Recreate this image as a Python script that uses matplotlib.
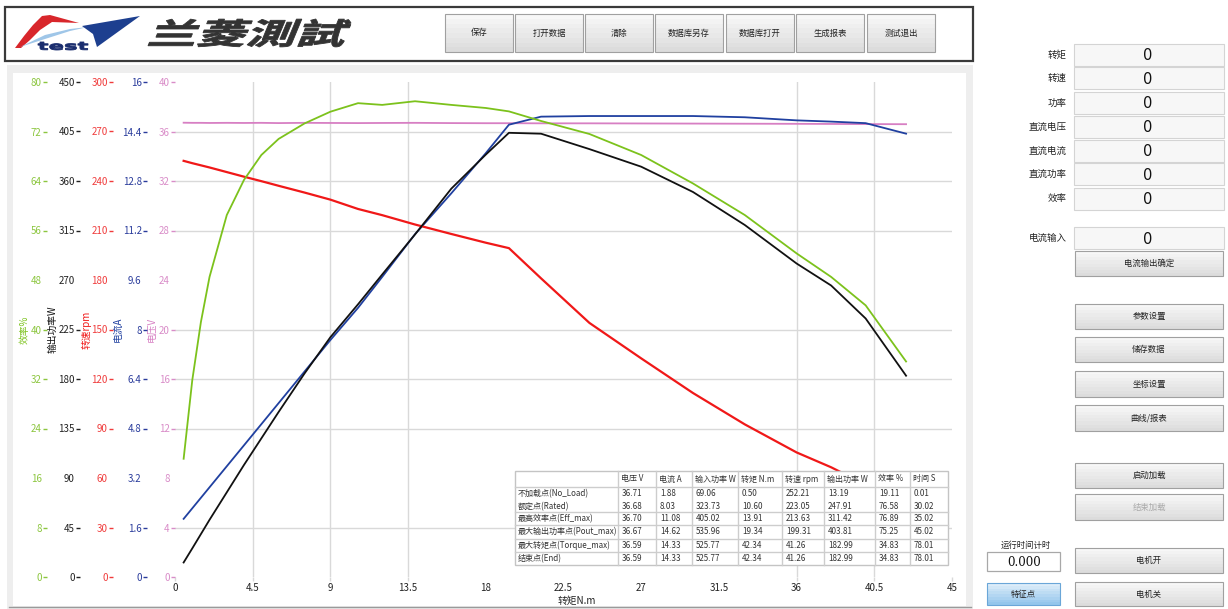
import numpy as np
import matplotlib
matplotlib.use('Agg')
import matplotlib.pyplot as plt
from matplotlib.patches import Rectangle, Polygon, PathPatch
from matplotlib.textpath import TextPath
from matplotlib.font_manager import FontProperties
from matplotlib.transforms import Affine2D
from matplotlib.colors import to_rgb

plt.rcParams['font.family'] = ['Noto Sans CJK SC', 'DejaVu Sans']

# ---- curve data (torque N.m on x) ----
torque = [0.5, 1, 1.5, 2, 3, 4, 5, 6, 7.5, 9, 10.6, 12, 13.9, 16, 18, 19.34,
          21.2, 24, 27, 30, 33, 36, 38, 40, 42.34]
efficiency = [19.11, 31.8, 41.2, 48.5, 58.5, 64.2, 68.2, 70.8, 73.3, 75.2, 76.58, 76.3,
              76.89, 76.3, 75.8, 75.25, 73.7, 71.6, 68.2, 63.6, 58.5, 52.3, 48.5, 43.9, 34.83]
output_power = [13.19, 26, 39, 52, 77, 102, 126, 150, 185, 218, 247.91, 275, 311.42,
                353, 384, 403.81, 403, 389, 373, 350, 320, 285, 265, 235, 182.99]
speed = [252.21, 250.8, 249.5, 248.2, 245.4, 242.6, 239.9, 237.1, 233.0, 228.7, 223.05,
         219.3, 213.63, 207.9, 202.6, 199.31, 181, 154, 132.5, 111.5, 92.5, 75.5, 66.5,
         56, 41.26]
current = [1.88, 2.22, 2.56, 2.9, 3.58, 4.26, 4.94, 5.62, 6.64, 7.66, 8.7, 9.7, 11.08,
           12.4, 13.7, 14.62, 14.88, 14.9, 14.9, 14.9, 14.86, 14.76, 14.72, 14.67, 14.33]
voltage = [36.71, 36.70, 36.70, 36.69, 36.70, 36.69, 36.70, 36.68, 36.70, 36.69, 36.68,
           36.69, 36.70, 36.68, 36.67, 36.67, 36.66, 36.66, 36.65, 36.64, 36.63, 36.62,
           36.61, 36.60, 36.59]

x_ticks = [0, 4.5, 9, 13.5, 18, 22.5, 27, 31.5, 36, 40.5, 45]
eff_ticks = [0, 8, 16, 24, 32, 40, 48, 56, 64, 72, 80]
pow_ticks = [0, 45, 90, 135, 180, 225, 270, 315, 360, 405, 450]
spd_ticks = [0, 30, 60, 90, 120, 150, 180, 210, 240, 270, 300]
cur_ticks = [0, 1.6, 3.2, 4.8, 6.4, 8, 9.6, 11.2, 12.8, 14.4, 16]
vol_ticks = [0, 4, 8, 12, 16, 20, 24, 28, 32, 36, 40]

# ---- table data ----
table_header = ['电压 V', '电流 A', '输入功率 W', '转矩 N.m', '转速 rpm', '输出功率 W', '效率 %', '时间 S']
table_names = ['不加载点(No_Load)', '额定点(Rated)', '最高效率点(Eff_max)',
               '最大输出功率点(Pout_max)', '最大转矩点(Torque_max)', '结束点(End)']
table_values = [
    ['36.71', '1.88', '69.06', '0.50', '252.21', '13.19', '19.11', '0.01'],
    ['36.68', '8.03', '323.73', '10.60', '223.05', '247.91', '76.58', '30.02'],
    ['36.70', '11.08', '405.02', '13.91', '213.63', '311.42', '76.89', '35.02'],
    ['36.67', '14.62', '535.96', '19.34', '199.31', '403.81', '75.25', '45.02'],
    ['36.59', '14.33', '525.77', '42.34', '41.26', '182.99', '34.83', '78.01'],
    ['36.59', '14.33', '525.77', '42.34', '41.26', '182.99', '34.83', '78.01'],
]

top_buttons = ['保存', '打开数据', '清除', '数据库另存', '数据库打开', '生成报表', '测试退出']
meter_labels = ['转矩', '转速', '功率', '直流电压', '直流电流', '直流功率', '效率']
side_buttons = ['电流输出确定', '参数设置', '储存数据', '坐标设置', '曲线/报表',
                '启动加载', '结束加载', '电机开', '电机关']

W, H = 1228, 609
fig = plt.figure(figsize=(W / 100, H / 100), dpi=100)

# background layer in pixel coordinates
bg = fig.add_axes([0, 0, 1, 1], zorder=0)
bg.set_xlim(0, W)
bg.set_ylim(H, 0)
bg.axis('off')


def fit_text(ax, s, box, color, weight='bold', skew=0, family='Noto Sans CJK SC'):
    tp = TextPath((0, 0), s, size=20, prop=FontProperties(family=family, weight=weight))
    tp = Affine2D().skew_deg(skew, 0).transform_path(tp)
    e = tp.get_extents()
    x0, y0, x1, y1 = box
    tr = Affine2D().translate(-e.x0, -e.y0).scale((x1 - x0) / e.width, -(y1 - y0) / e.height).translate(x0, y1)
    ax.add_patch(PathPatch(tr.transform_path(tp), fc=color, ec=color, lw=0.6))


def button(ax, x0, y0, x1, y1, label, fs=6, color='#222222', blue=False):
    top, bot, edge = ('#dcecf9', '#94c6ec', '#6aa6d8') if blue else ('#f7f7f7', '#dcdcdc', '#a0a0a0')
    c0, c1 = np.array(to_rgb(top)), np.array(to_rgb(bot))
    n = 8
    h = (y1 - y0) / n
    for k in range(n):
        f = k / (n - 1)
        ax.add_patch(Rectangle((x0, y0 + k * h), x1 - x0, h + 0.3, fc=c0 * (1 - f) + c1 * f, ec='none'))
    ax.add_patch(Rectangle((x0, y0), x1 - x0, y1 - y0, fc='none', ec=edge, lw=0.8))
    ax.text((x0 + x1) / 2, (y0 + y1) / 2, label, fontsize=fs, color=color, ha='center', va='center')


# header
bg.add_patch(Rectangle((5, 7), 968, 54, fc='white', ec='#3a3a3a', lw=1.6))
bg.add_patch(Polygon([(15, 48), (24, 36), (33, 25), (42, 16), (50, 15), (79, 23),
                      (52, 22), (40, 30), (30, 40), (21, 48)], fc='#d8262b', ec='none'))
bg.add_patch(Polygon([(20, 47), (45, 35), (70, 29), (88, 27), (70, 31), (45, 39)],
                     fc='#9fc6e8', ec='none'))
bg.add_patch(Polygon([(82, 26), (140, 16), (97, 47), (93, 34)], fc='#1d3f8f', ec='none'))
fit_text(bg, 'test', (38, 42, 88, 50), '#1a2d6e', family='DejaVu Sans')
fit_text(bg, '兰菱測試', (148, 19, 351, 47), '#333333', weight='heavy', skew=14)
btn_x = [445, 515, 585, 655, 726, 796, 867]
for bx, lab in zip(btn_x, top_buttons):
    button(bg, bx, 14, bx + 68, 52, lab)

# chart panel
bg.add_patch(Rectangle((7, 65), 966, 544, fc='#eeeeee', ec='none'))
bg.add_patch(Rectangle((13, 73), 953, 533, fc='white', ec='none'))
bg.plot([9, 971], [607, 607], color='#9a9a9a', lw=1)

# right panel meters
meter_y = [55, 78, 103, 127, 151, 174, 199]
for lab, yc in zip(meter_labels + ['电流输入'], meter_y + [238]):
    bg.add_patch(Rectangle((1074, yc - 11), 150, 22, fc='#f7f7f7', ec='#d4d4d4', lw=0.8))
    bg.text(1067, yc, lab, fontsize=6.8, ha='right', va='center', color='#222222')
    bg.text(1148, yc + 1, '0', fontsize=10.5, ha='center', va='center', color='#111111',
            family='DejaVu Sans')
side_y = [(251, 276), (304, 329), (337, 362), (371, 397), (405, 431),
          (463, 488), (494, 520), (548, 573), (582, 606)]
for lab, (y0, y1) in zip(side_buttons, side_y):
    button(bg, 1075, y0, 1223, y1, lab, color='#aaaaaa' if lab == '结束加载' else '#222222')
bg.text(1026, 545, '运行时间计时', fontsize=6, ha='center', va='center', color='#222222')
bg.add_patch(Rectangle((987, 552), 73, 19, fc='white', ec='#a8a8a8', lw=0.9))
bg.text(1024, 562, '0.000', fontsize=8.5, ha='center', va='center', color='#111111',
        family='DejaVu Serif')
button(bg, 987, 583, 1060, 605, '特征点', blue=True)

# ---- chart axes ----
L, R, B, T = 175, 952, 577, 82
pos = [L / W, 1 - B / H, (R - L) / W, (B - T) / H]

ax_v = fig.add_axes(pos, zorder=2)
ax_i = fig.add_axes(pos, sharex=ax_v, zorder=3)
ax_n = fig.add_axes(pos, sharex=ax_v, zorder=4)
ax_p = fig.add_axes(pos, sharex=ax_v, zorder=5)
ax_e = fig.add_axes(pos, sharex=ax_v, zorder=6)

grid_c = '#d9d9d9'
for v in [4, 12, 16, 20, 28, 32, 36]:
    ax_v.axhline(v, color=grid_c, lw=1, zorder=0)
for v in [4.5, 9, 13.5, 36, 40.5]:
    ax_v.axvline(v, color=grid_c, lw=1, zorder=0)

setup = [
    (ax_v, voltage, vol_ticks, '#d77fc3', '#d98cc8', '电压V', 0, 152),
    (ax_i, current, cur_ticks, '#2040a0', '#2a3c9c', '电流A', 147, 118),
    (ax_n, speed, spd_ticks, '#f01818', '#f03c3c', '转速rpm', 113, 86),
    (ax_p, output_power, pow_ticks, '#111111', '#222222', '输出功率W', 80, 52),
    (ax_e, efficiency, eff_ticks, '#7cc21c', '#8cc63f', '效率%', 47, 25),
]
for axx, vals, ticks, lc, tc, lab, spx, lpx in setup:
    axx.set_facecolor('none')
    axx.plot(torque, vals, color=lc, lw=1.6 if lc == '#f01818' else 1.3)
    axx.set_ylim(ticks[0], ticks[-1])
    axx.set_yticks(ticks, ['{:g}'.format(t) for t in ticks])
    for s in axx.spines.values():
        s.set_visible(False)
    if spx:
        axx.spines['left'].set_position(('axes', (spx - L) / (R - L)))
    axx.tick_params(axis='y', colors=tc, labelsize=7, length=3, width=1, pad=0.8)
    yt = axx.yaxis.get_major_ticks()
    for i in (2, 6):
        yt[i].tick1line.set_visible(False)
    axx.set_ylabel(lab, color=lc, fontsize=7)
    axx.yaxis.set_label_coords((lpx - L) / (R - L), 0.5)
    axx.yaxis.label.set_va('center')
    if axx is not ax_v:
        axx.tick_params(axis='x', bottom=False, labelbottom=False)

ax_v.set_xlim(0, 45)
ax_v.set_xticks(x_ticks, ['{:g}'.format(t) for t in x_ticks])
ax_v.tick_params(axis='x', colors='#222222', labelsize=7, length=3, width=1, pad=1.5)
ax_v.tick_params(axis='x', color=grid_c)
for i in (4, 5, 6, 7):
    ax_v.xaxis.get_major_ticks()[i].tick1line.set_visible(False)
ax_v.set_xlabel('转矩N.m', fontsize=7, color='#222222')
ax_v.xaxis.set_label_coords((577 - L) / (R - L), -(601 - B) / (B - T))
ax_v.xaxis.label.set_va('center')

# ---- result table overlay ----
ov = fig.add_axes([0, 0, 1, 1], zorder=10)
ov.set_xlim(0, W)
ov.set_ylim(H, 0)
ov.axis('off')
col_x = [515, 618, 656, 692, 738, 782, 824, 875, 910, 948]
row_lines = [471, 487, 512, 525, 539, 552, 565]
row_c = [493.5, 506.5, 518.5, 532, 545.5, 558.5]
ov.add_patch(Rectangle((col_x[0], row_lines[0]), col_x[-1] - col_x[0],
                       row_lines[-1] - row_lines[0], fc='white', ec='#c4c4c4', lw=1))
for yl in row_lines[1:-1]:
    ov.plot([col_x[0], col_x[-1]], [yl, yl], color='#cdcdcd', lw=1)
for xl in col_x[1:-1]:
    ov.plot([xl, xl], [row_lines[0], row_lines[-1]], color='#cdcdcd', lw=1)
for j, h in enumerate(table_header):
    ov.text(col_x[j + 1] + 3, 479, h, fontsize=5.8, va='center', color='#333333')
for r, (name, vals) in enumerate(zip(table_names, table_values)):
    ov.text(col_x[0] + 3, row_c[r], name, fontsize=5.8, va='center', color='#333333')
    for j, v in enumerate(vals):
        ov.text(col_x[j + 1] + 4, row_c[r], v, fontsize=5.8, va='center', color='#333333')

fig.savefig('out.png', dpi=100)
